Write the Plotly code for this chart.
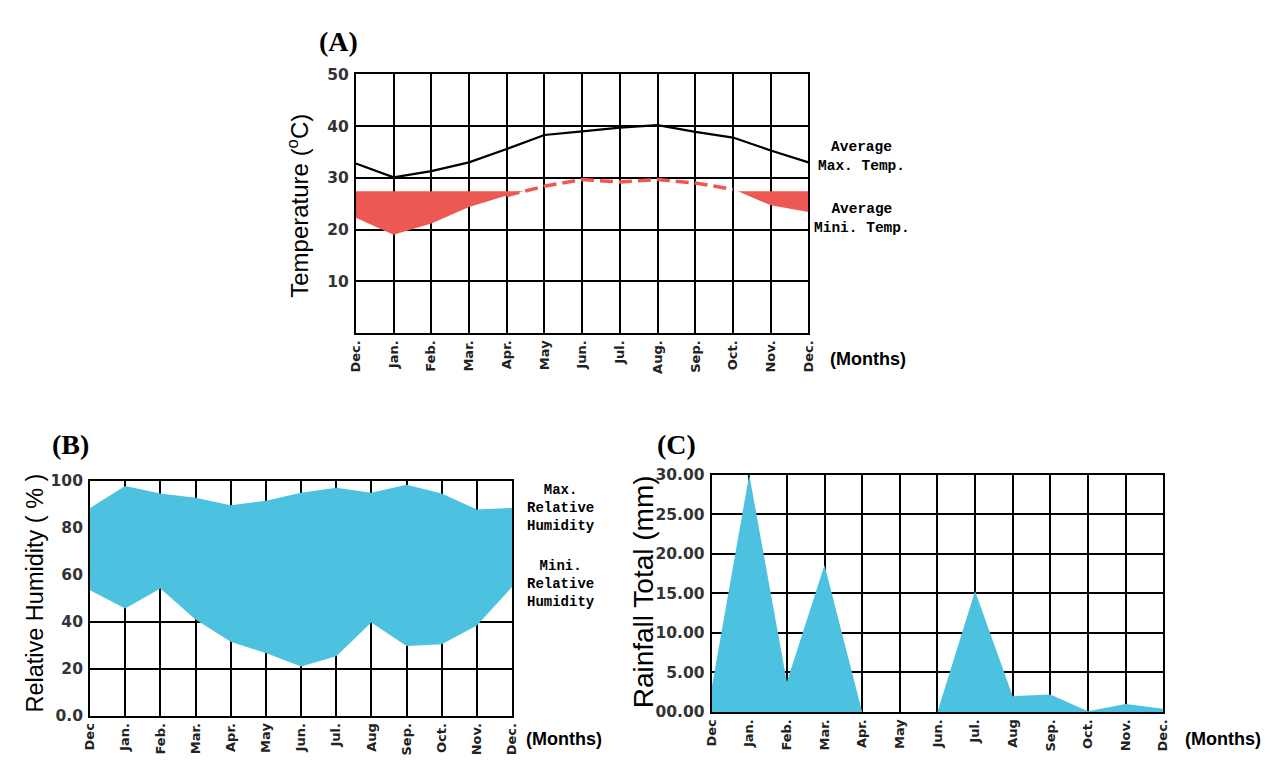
import plotly.graph_objects as go

W, H = 1274, 762

# ---------------- data ----------------
months_a = ["Dec.", "Jan.", "Feb.", "Mar.", "Apr.", "May", "Jun.", "Jul.", "Aug.", "Sep.", "Oct.", "Nov.", "Dec."]
months_b = ["Dec", "Jan.", "Feb.", "Mar.", "Apr.", "May", "Jun.", "Jul.", "Aug", "Sep.", "Oct.", "Nov.", "Dec."]
months_c = ["Dec", "Jan.", "Feb.", "Mar.", "Apr.", "May", "Jun.", "Jul.", "Aug", "Sep.", "Oct.", "Nov.", "Dec."]
month_idx = list(range(13))

temp_max = [32.8, 30.1, 31.3, 33.0, 35.6, 38.3, 39.0, 39.7, 40.2, 38.9, 37.8, 35.3, 33.0]
temp_min = [22.3, 19.0, 21.2, 24.4, 26.6, 28.4, 29.7, 29.2, 29.7, 29.0, 27.8, 24.7, 23.4]
temp_fill_level = 27.4

rh_max = [88.4, 97.7, 94.5, 92.7, 89.5, 91.4, 94.8, 97.0, 94.8, 98.2, 94.5, 87.7, 88.4]
rh_min = [53.4, 45.6, 54.1, 41.0, 31.5, 26.7, 21.0, 25.3, 39.7, 29.7, 30.5, 38.4, 54.8]

rain = [3.0, 30.0, 3.8, 18.6, 0.0, 0.0, 0.0, 15.3, 2.0, 2.2, 0.1, 1.0, 0.4]

temp_ticks = [10, 20, 30, 40, 50]
rh_ticks = [0, 20, 40, 60, 80, 100]
rh_ticktext = ["0.0", "20", "40", "60", "80", "100"]
rain_ticks = [0, 5, 10, 15, 20, 25, 30]
rain_ticktext = ["00.00", "5.00", "10.00", "15.00", "20.00", "25.00", "30.00"]

RED = "#EE5852"
BLUE = "#4CC2E0"


def fx(x):
    return x / W


def fy(y):
    return 1 - y / H


def below_regions(xs, ys, level):
    """Polygons of the area between `level` and the curve where the curve is below it."""
    regions, cur = [], None
    n = len(xs)
    for i in range(n):
        x0, y0 = xs[i], ys[i]
        if y0 < level:
            if cur is None:
                cur = [(x0, level)]
            cur.append((x0, y0))
        if i < n - 1:
            x1, y1 = xs[i + 1], ys[i + 1]
            if (y0 < level) != (y1 < level):
                t = (level - y0) / (y1 - y0)
                xc = x0 + t * (x1 - x0)
                if cur is None:
                    cur = [(xc, level)]
                else:
                    cur.append((xc, level))
                    regions.append(cur)
                    cur = None
    if cur is not None:
        cur.append((xs[-1], level))
        regions.append(cur)
    px_, py_ = [], []
    for r in regions:
        px_ += [p[0] for p in r] + [r[0][0], None]
        py_ += [p[1] for p in r] + [r[0][1], None]
    return px_, py_


fig = go.Figure()

# ---------- (A) temperature ----------
fxs, fys = below_regions(month_idx, temp_min, temp_fill_level)
fig.add_trace(go.Scatter(x=fxs, y=fys, fill="toself", fillcolor=RED, mode="lines",
                         line=dict(width=0, color=RED), xaxis="x", yaxis="y",
                         hoverinfo="skip", showlegend=False))
fig.add_trace(go.Scatter(x=month_idx[4:11], y=temp_min[4:11], mode="lines",
                         line=dict(color=RED, width=3.5, dash="13px,6px"),
                         xaxis="x", yaxis="y", showlegend=False))
fig.add_trace(go.Scatter(x=month_idx, y=temp_max, mode="lines",
                         line=dict(color="black", width=2.2),
                         xaxis="x", yaxis="y", showlegend=False))

# ---------- (B) relative humidity ----------
fig.add_trace(go.Scatter(x=month_idx, y=rh_min, mode="lines", line=dict(width=0, color=BLUE),
                         xaxis="x2", yaxis="y2", showlegend=False))
fig.add_trace(go.Scatter(x=month_idx, y=rh_max, mode="lines", line=dict(width=0, color=BLUE),
                         fill="tonexty", fillcolor=BLUE,
                         xaxis="x2", yaxis="y2", showlegend=False))

# ---------- (C) rainfall ----------
fig.add_trace(go.Scatter(x=month_idx, y=rain, mode="lines", line=dict(width=0, color=BLUE),
                         fill="tozeroy", fillcolor=BLUE,
                         xaxis="x3", yaxis="y3", showlegend=False))

tick_font_y = dict(family="DejaVu Sans", size=15.5, color="#333333", weight="bold")
tick_font_x = dict(family="DejaVu Sans", size=13, color="#222222", weight="bold")


def xaxis_cfg(domain, labels, anchor):
    return dict(domain=domain, range=[0, 12], tickvals=month_idx, ticktext=labels,
                tickangle=-90, tickfont=tick_font_x, showgrid=True, gridcolor="black",
                gridwidth=2, showline=True, linecolor="black", linewidth=2, mirror=True,
                zeroline=False, ticks="", anchor=anchor, fixedrange=True)


def yaxis_cfg(domain, rng, tv, tt, anchor):
    return dict(domain=domain, range=rng, tickvals=tv, ticktext=tt, tickfont=tick_font_y,
                showgrid=True, gridcolor="black", gridwidth=2, showline=True,
                linecolor="black", linewidth=2, mirror=True, zeroline=False, ticks="",
                anchor=anchor, fixedrange=True, ticklabelstandoff=2)


# pixel frames of the three plot areas
A = (352, 810, 67, 332)
B = (83, 510, 483, 724)
C = (712, 1169, 477, 720)

fig.update_layout(
    width=W, height=H, margin=dict(l=0, r=0, t=0, b=0),
    paper_bgcolor="white", plot_bgcolor="white",
    xaxis=xaxis_cfg([fx(A[0]), fx(A[1])], months_a, "y"),
    yaxis=yaxis_cfg([fy(A[3]), fy(A[2])], [0, 50], temp_ticks, [str(v) for v in temp_ticks], "x"),
    xaxis2=xaxis_cfg([fx(B[0]), fx(B[1])], months_b, "y2"),
    yaxis2=yaxis_cfg([fy(B[3]), fy(B[2])], [0, 100], rh_ticks, rh_ticktext, "x2"),
    xaxis3=xaxis_cfg([fx(C[0]), fx(C[1])], months_c, "y3"),
    yaxis3=yaxis_cfg([fy(C[3]), fy(C[2])], [0, 30], rain_ticks, rain_ticktext, "x3"),
)

ann = []


def text(x, y, s, size, family="Liberation Sans", weight="normal", angle=0, color="black",
         xanchor="center"):
    ann.append(dict(x=fx(x), y=fy(y), xref="paper", yref="paper", text=s, showarrow=False,
                    textangle=angle, xanchor=xanchor, yanchor="middle", align="center",
                    font=dict(family=family, size=size, color=color, weight=weight)))


# panel labels
text(334, 33, "(A)", 28, family="Liberation Serif", weight="bold")
text(63, 446, "(B)", 28, family="Liberation Serif", weight="bold")
text(676, 446, "(C)", 28, family="Liberation Serif", weight="bold")

# y-axis titles
text(294, 202, "Temperature (<sup>o</sup>C)", 24, angle=-90)
text(27, 598, "Relative Humidity ( % )", 23.5, angle=-90)
text(643, 597, "Rainfall Total (mm)", 28, angle=-90)

# (Months)
text(870, 358, "(Months)", 18, weight="bold")
text(563, 748, "(Months)", 18, weight="bold")
text(1229, 748, "(Months)", 18, weight="bold")

# series labels
mono = "Liberation Mono"
text(864, 151, "Average<br>Max. Temp.", 14.5, family=mono, weight="bold")
text(864, 215, "Average<br>Mini. Temp.", 14.5, family=mono, weight="bold")
text(560, 511, "Max.<br>Relative<br>Humidity", 14, family=mono, weight="bold")
text(560, 589, "Mini.<br>Relative<br>Humidity", 14, family=mono, weight="bold")

fig.update_layout(annotations=ann)

fig.write_html("out.html", config={"displayModeBar": False},
               post_script="document.body.style.margin='0';")
